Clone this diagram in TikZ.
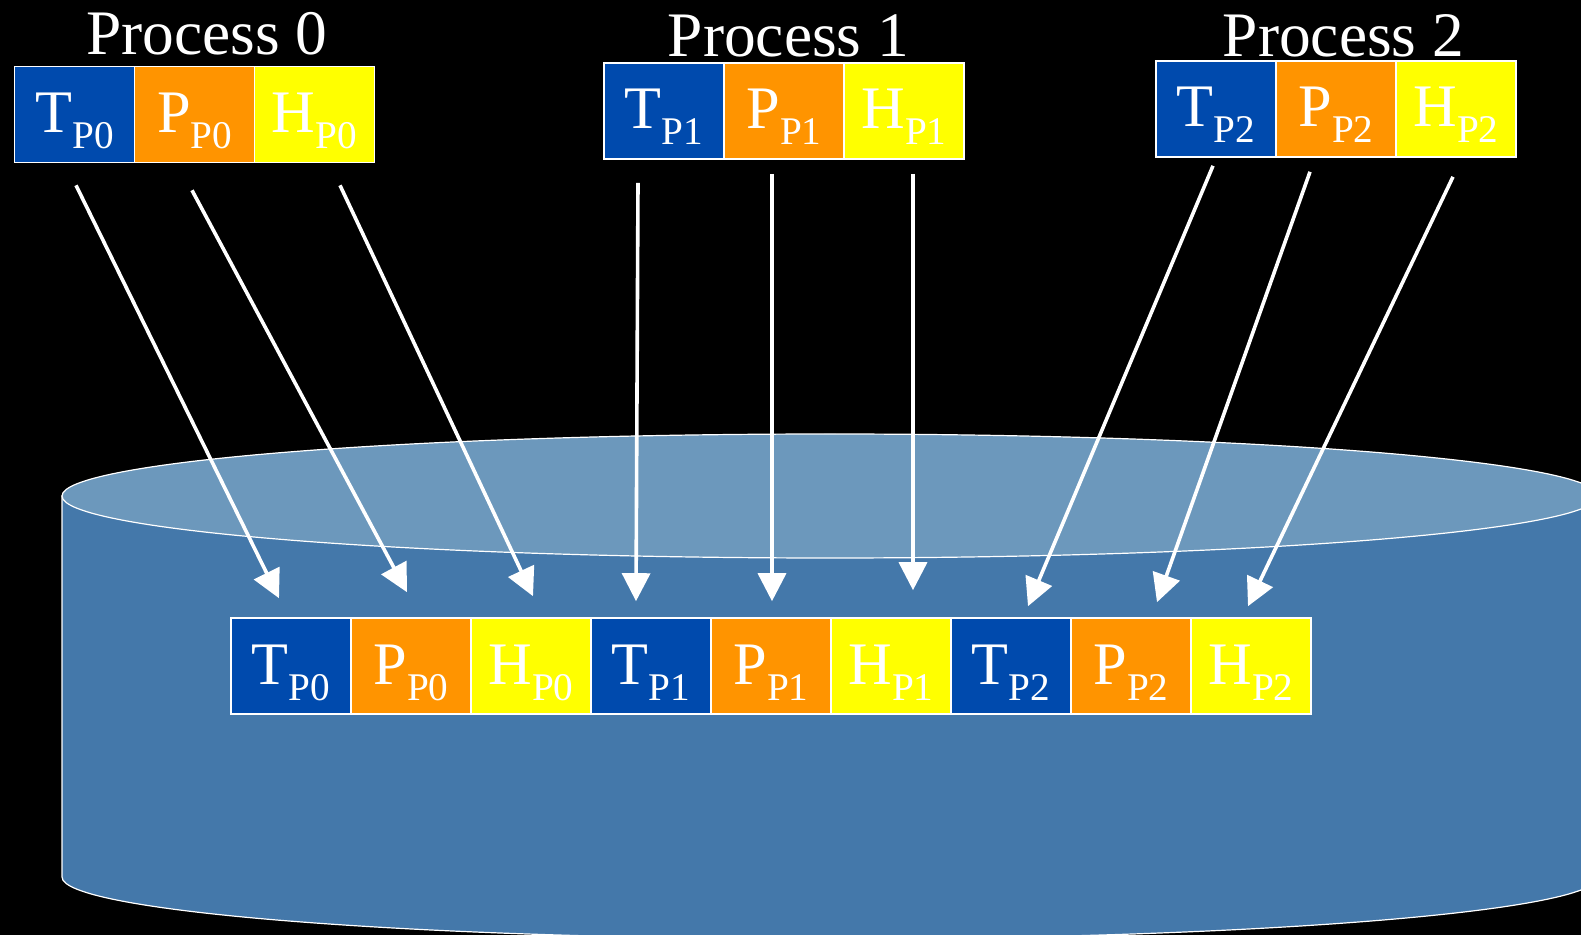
\documentclass[tikz,border=0pt]{standalone}
\usepackage{fontspec}
\setmainfont{Liberation Serif}
\usetikzlibrary{arrows.meta,positioning,calc}
\definecolor{tblue}{RGB}{0,74,173}
\definecolor{porange}{RGB}{255,148,0}
\definecolor{hyellow}{RGB}{255,255,0}
\definecolor{drumside}{RGB}{68,120,170}
\definecolor{drumtop}{RGB}{108,152,188}
\newcommand{\sublbl}[2]{#1\raisebox{-8pt}{\fontsize{19.6pt}{20pt}\selectfont #2}}
\tikzset{
  cellbox/.style={rectangle, draw=white, line width=0.8pt, minimum width=60pt,
    minimum height=48pt, inner sep=0pt, text height=33pt, text depth=15pt,
    text=white, font=\fontsize{30.2pt}{32pt}\selectfont},
  tcell/.style={cellbox, fill=tblue},
  pcell/.style={cellbox, fill=porange},
  hcell/.style={cellbox, fill=hyellow},
  proclabel/.style={anchor=base, text=white, inner sep=0pt,
    font=\fontsize{31.7pt}{33pt}\selectfont},
  feed/.style={-{Triangle[length=14pt,width=14pt]}, draw=white, line width=1.8pt},
}

\begin{document}
\begin{tikzpicture}[x=0.5pt, y=-0.5pt]

  \useasboundingbox (0,0) rectangle (1581,935);
  \clip (0,0) rectangle (1581,935);
  \fill[black] (0,0) rectangle (1581,935);

  % ============ Disk (cylinder) ============
  \filldraw[fill=drumside, draw=white, line width=0.6pt]
    (62,496) -- (62,877)
    arc[start angle=180, end angle=360, x radius=384pt, y radius=31pt]
    -- (1598,496) -- cycle;
  \filldraw[fill=drumtop, draw=white, line width=0.6pt]
    (830,496) ellipse [x radius=384pt, y radius=31pt];

  % ============ Process 0 ============
  \node[proclabel] (proc0) at (207,55) {Process 0};
  \node[tcell] (t0) at (74.5,114.5)  {\sublbl{T}{P0}};
  \node[pcell] (p0) at (194.5,114.5) {\sublbl{P}{P0}};
  \node[hcell] (h0) at (314.5,114.5) {\sublbl{H}{P0}};

  % ============ Process 1 ============
  \node[proclabel] (proc1) at (788.5,57) {Process 1};
  \node[tcell] (t1) at (664,111) {\sublbl{T}{P1}};
  \node[pcell] (p1) at (784,111) {\sublbl{P}{P1}};
  \node[hcell] (h1) at (904,111) {\sublbl{H}{P1}};

  % ============ Process 2 ============
  \node[proclabel] (proc2) at (1343.5,57) {Process 2};
  \node[tcell] (t2) at (1216,109) {\sublbl{T}{P2}};
  \node[pcell] (p2) at (1336,109) {\sublbl{P}{P2}};
  \node[hcell] (h2) at (1456,109) {\sublbl{H}{P2}};

  % ============ Shared file on disk ============
  \node[tcell] (ft0) at (291,666)  {\sublbl{T}{P0}};
  \node[pcell] (fp0) at (411,666)  {\sublbl{P}{P0}};
  \node[hcell] (fh0) at (531,666)  {\sublbl{H}{P0}};
  \node[tcell] (ft1) at (651,666)  {\sublbl{T}{P1}};
  \node[pcell] (fp1) at (771,666)  {\sublbl{P}{P1}};
  \node[hcell] (fh1) at (891,666)  {\sublbl{H}{P1}};
  \node[tcell] (ft2) at (1011,666) {\sublbl{T}{P2}};
  \node[pcell] (fp2) at (1131,666) {\sublbl{P}{P2}};
  \node[hcell] (fh2) at (1251,666) {\sublbl{H}{P2}};

  % ============ Writes (white arrows) ============
  \draw[feed] ($(t0.south)+(1.5,22)$)  -- ($(ft0.north)+(-12,-19)$);
  \draw[feed] ($(p0.south)+(-2.5,27)$) -- ($(fp0.north)+(-4,-25)$);
  \draw[feed] ($(h0.south)+(25.5,22)$) -- ($(fh0.north)+(2,-21)$);

  \draw[feed] ($(t1.south)+(-26,23)$) -- ($(ft1.north)+(-15,-16)$);
  \draw[feed] ($(p1.south)+(-12,14)$) -- ($(fp1.north)+(1,-16)$);
  \draw[feed] ($(h1.south)+(9,14)$)   -- ($(fh1.north)+(22,-27)$);

  \draw[feed] ($(t2.south)+(-3,8)$)   -- ($(ft2.north)+(17,-11)$);
  \draw[feed] ($(p2.south)+(-26,14)$) -- ($(fp2.north)+(26,-15)$);
  \draw[feed] ($(h2.south)+(-3,19)$)  -- ($(fh2.north)+(-3,-11)$);

\end{tikzpicture}
\end{document}
